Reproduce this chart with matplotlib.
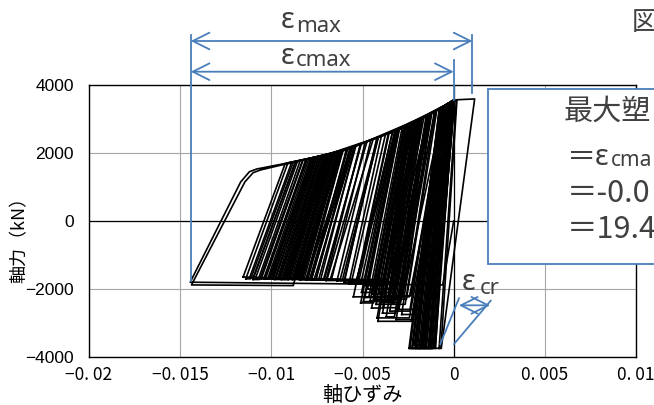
import matplotlib
matplotlib.use("Agg")
import matplotlib.pyplot as plt
from matplotlib.patches import Rectangle

plt.rcParams['font.family'] = ['Noto Sans CJK JP', 'DejaVu Sans']

W, H = 654, 405
BLUE = '#4a7ebb'
GRAY_TXT = '#404040'

# axes ticks
x_ticks = [-0.02, -0.015, -0.01, -0.005, 0.0, 0.005, 0.01]
x_tick_labels = ['−0. 02', '−0. 015', '−0. 01', '−0. 005', '0', '0. 005', '0. 01']
y_ticks = [-4000, -2000, 0, 2000, 4000]
y_tick_labels = ['−4000', '−2000', '0', '2000', '4000']

# first two large cycles, drawn as one path (strain, kN)
first_strain = [0.0, -0.0006, -0.01445, -0.01168, -0.0112, -0.0108, -0.0095, -0.0080,
                -0.0068, -0.0088, -0.01438, -0.01145, -0.0110, -0.0106, -0.0095, -0.0085]
first_force = [0, -1880, -1800, 1150, 1450, 1530, 1665, 1830,
               1975, -1900, -1880, 1150, 1420, 1500, 1640, 1750]

# later cycles, one value per loop
# bottom-left corner strain and plateau force
loop_bl = [-0.01155, -0.01120, -0.01085, -0.01055, -0.01030, -0.01010, -0.00990, -0.00975,
           -0.00960, -0.00945, -0.00930, -0.00915, -0.00900, -0.00885, -0.00870, -0.00855,
           -0.00840, -0.00820, -0.00800, -0.00780, -0.00755, -0.00730, -0.00700, -0.00670,
           -0.00640, -0.00600, -0.00560, -0.00520,
           -0.00600, -0.00575, -0.00550, -0.00530, -0.00510, -0.00495, -0.00480, -0.00465,
           -0.00450, -0.00440, -0.00430, -0.00420, -0.00410, -0.00400, -0.00390, -0.00380,
           -0.00370, -0.00360, -0.00415, -0.00330, -0.00315, -0.00300,
           -0.00245, -0.00235, -0.00225, -0.00215, -0.00205, -0.00190, -0.00175, -0.00160,
           -0.00140, -0.00120, -0.00100, -0.00080,
           -0.01140, -0.01100, -0.01070, -0.01040, -0.01020, -0.01000, -0.00982, -0.00967,
           -0.00952, -0.00938, -0.00922, -0.00907, -0.00892, -0.00877, -0.00862, -0.00847,
           -0.00830, -0.00810,
           -0.00505, -0.00487, -0.00472, -0.00458, -0.00445, -0.00425, -0.00405, -0.00385,
           -0.00365, -0.00350, -0.00335, -0.00285,
           -0.00240, -0.00230, -0.00210, -0.00198, -0.00182, -0.00168, -0.00150, -0.00130]
loop_bottom = [-1650, -1680, -1660, -1700, -1670, -1690, -1710, -1680,
               -1700, -1720, -1690, -1710, -1700, -1720, -1690, -1710,
               -1730, -1700, -1720, -1740, -1710, -1730, -1750, -1720,
               -1760, -1740, -1780, -1760,
               -1800, -1850, -2230, -1820, -2410, -2370, -1900, -2230,
               -2560, -2000, -2300, -2850, -2100, -2400, -2710, -2200,
               -2820, -2300, -2950, -2450, -2900, -2600,
               -3745, -3500, -3745, -3650, -3745, -3745, -3700, -3745,
               -3745, -3745, -3745, -3745,
               -1700, -1720, -1690, -1710, -1700, -1680, -1720, -1700,
               -1690, -1710, -1700, -1720, -1700, -1710, -1700, -1720,
               -1710, -1730,
               -2100, -2250, -2000, -2350, -2150, -2450, -2250, -2550,
               -2350, -2650, -2250, -2750,
               -3745, -3745, -3745, -3745, -3745, -3745, -3745, -3745]
# top-left corner (reloading meets the envelope)
loop_tl = [-0.00924, -0.00888, -0.00856, -0.00825, -0.00803, -0.00784, -0.00765, -0.00754,
           -0.00740, -0.00727, -0.00716, -0.00703, -0.00691, -0.00678, -0.00668, -0.00655,
           -0.00642, -0.00626, -0.00608, -0.00589, -0.00567, -0.00542, -0.00512, -0.00485,
           -0.00454, -0.00415, -0.00374, -0.00336,
           -0.00421, -0.00396, -0.00358, -0.00354, -0.00314, -0.00305, -0.00308, -0.00283,
           -0.00260, -0.00271, -0.00253, -0.00228, -0.00244, -0.00226, -0.00211, -0.00217,
           -0.00191, -0.00203, -0.00242, -0.00172, -0.00148, -0.00141,
           -0.00077, -0.00079, -0.00069, -0.00068, -0.00063, -0.00054, -0.00047, -0.00038,
           -0.00025, -0.00019, -0.00012, 0.00015,
           -0.00909, -0.00868, -0.00841, -0.00811, -0.00794, -0.00777, -0.00759, -0.00748,
           -0.00736, -0.00724, -0.00711, -0.00698, -0.00686, -0.00674, -0.00663, -0.00649,
           -0.00636, -0.00617,
           -0.00320, -0.00299, -0.00298, -0.00275, -0.00268, -0.00246, -0.00236, -0.00210,
           -0.00201, -0.00181, -0.00183, -0.00127,
           -0.00078, -0.00074, -0.00068, -0.00063, -0.00054, -0.00046, -0.00035, -0.00022]
loop_tl_force = [1690, 1733, 1768, 1803, 1827, 1849, 1872, 1885,
                 1902, 1918, 1931, 1946, 1961, 1976, 1988, 2004,
                 2020, 2039, 2060, 2094, 2143, 2198, 2264, 2322,
                 2387, 2468, 2550, 2622,
                 2456, 2508, 2580, 2587, 2664, 2680, 2675, 2734,
                 2794, 2765, 2812, 2877, 2835, 2882, 2921, 2906,
                 2974, 2942, 2841, 3025, 3090, 3109,
                 3298, 3291, 3325, 3329, 3346, 3376, 3400, 3431,
                 3475, 3495, 3520, 3565,
                 1710, 1755, 1785, 1818, 1837, 1857, 1879, 1892,
                 1907, 1921, 1937, 1952, 1967, 1981, 1994, 2011,
                 2027, 2049,
                 2652, 2693, 2695, 2755, 2773, 2830, 2856, 2924,
                 2947, 3000, 2996, 3147,
                 3295, 3308, 3329, 3346, 3376, 3403, 3441, 3485]
# peak (top-right corner)
loop_peak = [-0.00864, -0.00768, -0.00806, -0.00675, -0.00763, -0.00694, -0.00565, -0.00694,
             -0.00630, -0.00687, -0.00556, -0.00633, -0.00441, -0.00628, -0.00568, -0.00475,
             -0.00582, -0.00506, -0.00308, -0.00509, -0.00417, -0.00322, -0.00412, -0.00135,
             -0.00334, -0.00215, -0.00094, -0.00186,
             -0.00321, -0.00196, -0.00238, -0.00054, -0.00234, -0.00125, -0.00208, -0.00033,
             -0.00190, -0.00131, -0.00163, -0.00028, -0.00184, -0.00106, -0.00131, -0.00057,
             -0.00141, -0.00093, -0.00042, -0.00102, -0.00018, -0.00051,
             -0.00037, 0.00000, -0.00009, -0.00018, -0.00013, 0.00005, -0.00007, 0.00002,
             0.00005, 0.00001, 0.00018, 0.00115,
             -0.00879, -0.00828, -0.00771, -0.00781, -0.00694, -0.00727, -0.00679, -0.00708,
             -0.00616, -0.00664, -0.00621, -0.00658, -0.00546, -0.00624, -0.00583, -0.00609,
             -0.00536, -0.00557,
             -0.00260, -0.00199, -0.00248, -0.00145, -0.00198, -0.00146, -0.00176, -0.00120,
             -0.00151, -0.00061, -0.00123, -0.00047,
             -0.00048, -0.00024, -0.00028, -0.00013, -0.00004, 0.00000, 0.00005, 0.00003]
loop_peak_force = [1760, 1868, 1823, 1980, 1874, 1957, 2147, 1957,
                   2034, 1966, 2167, 2030, 2414, 2036, 2150, 2342,
                   2110, 2277, 2675, 2270, 2464, 2648, 2475, 3125,
                   2626, 2911, 3240, 2985,
                   2650, 2961, 2851, 3376, 2862, 3153, 2929, 3448,
                   2977, 3136, 3050, 3465, 2993, 3204, 3136, 3366,
                   3112, 3244, 3417, 3215, 3499, 3387,
                   3434, 3560, 3530, 3499, 3516, 3560, 3536, 3560,
                   3560, 3560, 3560, 3590,
                   1743, 1799, 1865, 1853, 1957, 1918, 1975, 1940,
                   2051, 1993, 2045, 2000, 2189, 2041, 2107, 2060,
                   2210, 2165,
                   2794, 2953, 2825, 3099, 2955, 3096, 3015, 3166,
                   3082, 3353, 3158, 3400,
                   3397, 3478, 3465, 3516, 3546, 3560, 3560, 3560]
# bottom-right corner strain (unloading meets the plateau)
loop_br = [-0.01099, -0.01009, -0.01039, -0.00918, -0.00993, -0.00927, -0.00808, -0.00920,
           -0.00858, -0.00908, -0.00784, -0.00850, -0.00676, -0.00838, -0.00779, -0.00694,
           -0.00786, -0.00713, -0.00532, -0.00710, -0.00622, -0.00532, -0.00611, -0.00358,
           -0.00531, -0.00420, -0.00310, -0.00385,
           -0.00508, -0.00393, -0.00441, -0.00262, -0.00440, -0.00335, -0.00392, -0.00243,
           -0.00389, -0.00316, -0.00350, -0.00243, -0.00357, -0.00291, -0.00318, -0.00235,
           -0.00325, -0.00259, -0.00233, -0.00266, -0.00197, -0.00219,
           -0.00209, -0.00162, -0.00169, -0.00168, -0.00158, -0.00134, -0.00137, -0.00122,
           -0.00112, -0.00101, -0.00070, -0.00068,
           -0.01113, -0.01064, -0.01006, -0.01013, -0.00928, -0.00954, -0.00908, -0.00930,
           -0.00841, -0.00883, -0.00838, -0.00870, -0.00764, -0.00830, -0.00789, -0.00809,
           -0.00740, -0.00756,
           -0.00451, -0.00397, -0.00427, -0.00341, -0.00382, -0.00335, -0.00350, -0.00303,
           -0.00319, -0.00241, -0.00280, -0.00213,
           -0.00212, -0.00183, -0.00172, -0.00151, -0.00135, -0.00124, -0.00112, -0.00107]


def fxy(px, py):
    # pixel position in the picture (from top-left) -> figure fraction
    return px / W, 1 - py / H


fig = plt.figure(figsize=(W / 100, H / 100), dpi=100)
ax = fig.add_axes([89 / W, (H - 357) / H, (636 - 89) / W, (357 - 85) / H])

ax.set_xlim(-0.02, 0.01)
ax.set_ylim(-4000, 4000)
ax.set_xticks(x_ticks)
ax.set_xticklabels(x_tick_labels, fontsize=12.5)
ax.set_yticks(y_ticks)
ax.set_yticklabels(y_tick_labels, fontsize=12.5, family='Liberation Sans')
ax.tick_params(length=0)
ax.tick_params(axis='x', pad=6.5)
ax.tick_params(axis='y', pad=11)
ax.grid(True, color='#a6a6a6', lw=0.8)
ax.set_axisbelow(True)
ax.axhline(0, color='black', lw=0.9, zorder=1.5)
ax.axvline(0, color='black', lw=0.9, zorder=1.5)
for sp in ax.spines.values():
    sp.set_color('black')
    sp.set_linewidth(1.0)

ax.plot(first_strain, first_force, color='black', lw=1.2, zorder=2)
for i in range(len(loop_bl)):
    xs = [loop_bl[i], loop_tl[i], loop_peak[i], loop_br[i], loop_bl[i]]
    ys = [loop_bottom[i], loop_tl_force[i], loop_peak_force[i], loop_bottom[i], loop_bottom[i]]
    ax.plot(xs, ys, color='black', lw=1.2, zorder=2)

# dimension lines for eps_max / eps_cmax
arrow_kw = dict(arrowstyle='<->,head_length=0.6,head_width=0.3', color=BLUE, lw=1.3,
                shrinkA=0, shrinkB=0, mutation_scale=20)
ax.plot([-0.01442, -0.01442], [5470, -1765], color=BLUE, lw=1.3, clip_on=False, zorder=3)
ax.plot([0.00103, 0.00103], [5470, 3765], color=BLUE, lw=1.3, clip_on=False, zorder=3)
ax.plot([0.0, 0.0], [4735, 3560], color=BLUE, lw=1.3, clip_on=False, zorder=3)
ax.annotate('', xy=(0.00103, 5294), xytext=(-0.01442, 5294), arrowprops=arrow_kw,
            annotation_clip=False)
ax.annotate('', xy=(0.0, 4391), xytext=(-0.01442, 4391), arrowprops=arrow_kw,
            annotation_clip=False)

# eps_cr
ax.plot([-0.00073, 0.00029], [-3618, -2274], color=BLUE, lw=1.3, zorder=3)
ax.plot([0.00002, 0.00203], [-3618, -2344], color=BLUE, lw=1.3, zorder=3)
ax.annotate('', xy=(0.00200, -2480), xytext=(0.00029, -2480), arrowprops=arrow_kw)

fig.text(*fxy(281, 21), 'ε', fontsize=21, color=GRAY_TXT, family='Noto Sans', va='center')
fig.text(*fxy(296, 26), 'max', fontsize=16, color=GRAY_TXT, family='Noto Sans', va='center')
fig.text(*fxy(281, 56), 'ε', fontsize=21, color=GRAY_TXT, family='Noto Sans', va='center')
fig.text(*fxy(296, 61), 'cmax', fontsize=16, color=GRAY_TXT, family='Noto Sans', va='center')
fig.text(*fxy(462, 282), 'ε', fontsize=21, color=GRAY_TXT, family='Noto Sans', va='center')
fig.text(*fxy(480, 288), 'cr', fontsize=16, color=GRAY_TXT, family='Noto Sans', va='center')

# text box on the right (cut by the picture edge)
x0, y0 = fxy(488.3, 264.3)
fig.add_artist(Rectangle((x0, y0), (720 - 488.3) / W, (264.3 - 89.3) / H,
                         transform=fig.transFigure, facecolor='white', edgecolor=BLUE,
                         lw=1.3, zorder=5))
fig.text(*fxy(564, 112), '最大塑', fontsize=21, color=GRAY_TXT, va='center', zorder=6)
fig.text(*fxy(567, 158), '＝', fontsize=21, color=GRAY_TXT, va='center', zorder=6)
fig.text(*fxy(595, 157), 'ε', fontsize=21, color=GRAY_TXT, family='Noto Sans', va='center', zorder=6)
fig.text(*fxy(611, 161), 'cma', fontsize=15, color=GRAY_TXT, family='Noto Sans', va='center', zorder=6)
fig.text(*fxy(567, 193), '＝-0.0', fontsize=22, color=GRAY_TXT, va='center', zorder=6)
fig.text(*fxy(567, 229), '＝19.4', fontsize=22, color=GRAY_TXT, va='center', zorder=6)
fig.text(*fxy(632, 22), '図', fontsize=19, color=GRAY_TXT, va='center')

fig.text(*fxy(20, 235), '軸力（kN）', fontsize=13, rotation=90, ha='center', va='center')
fig.text(*fxy(362, 395.5), '軸ひずみ', fontsize=14.5, ha='center', va='center')

fig.savefig('out.png', dpi=100)
plt.close(fig)
